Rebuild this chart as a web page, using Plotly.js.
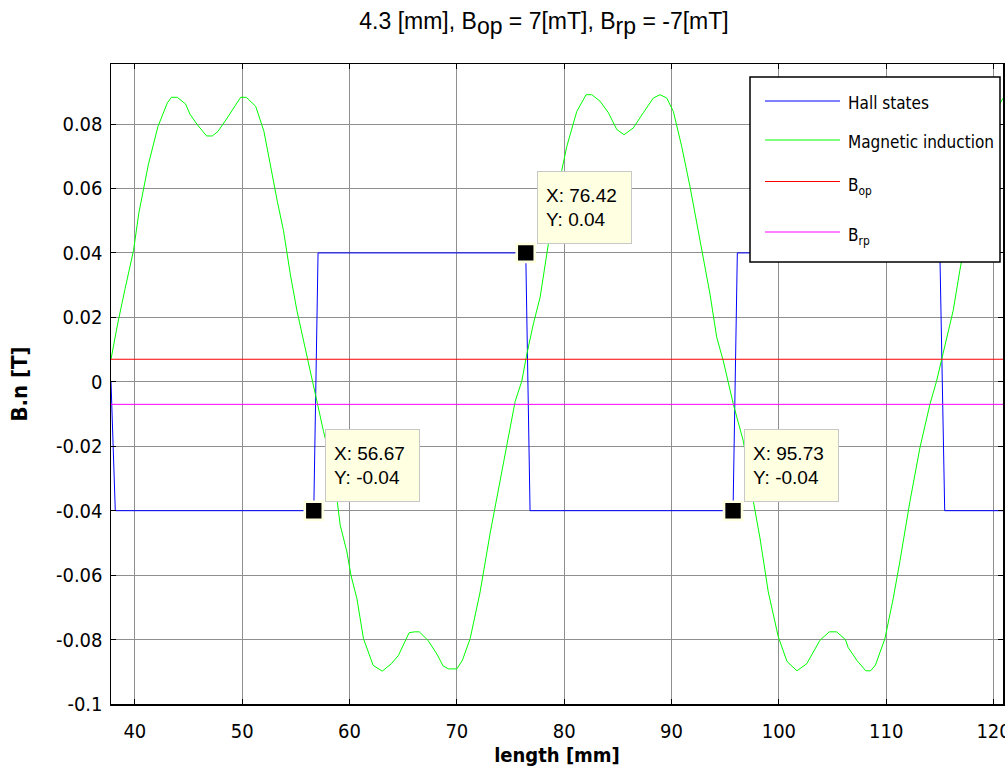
<!DOCTYPE html>
<html>
<head>
<meta charset="utf-8">
<script src="https://cdn.plot.ly/plotly-3.0.1.min.js"></script>
<style>
html,body{margin:0;padding:0;background:#fff;overflow:hidden;}
#chart{width:1005px;height:782px;}
</style>
</head>
<body>
<div id="chart"></div>
<script>
// ---- data ----
const hallX = [37.78, 38.18, 56.67, 57.07, 76.42, 76.82, 95.73, 96.13, 115.00, 115.45, 120.88];
const hallY = [0.0, -0.04, -0.04, 0.04, 0.04, -0.04, -0.04, 0.04, 0.04, -0.04, -0.04];

const bX = [37.78, 38.40, 39.10, 39.88, 40.37, 41.25, 42.15, 43.02, 43.40, 43.96, 44.73, 45.13, 45.82, 46.69, 47.22, 47.74, 48.55, 48.99, 49.86, 50.39,
  51.26, 52.03, 52.82, 53.28, 53.85, 54.48, 55.10, 56.03, 56.50, 56.96, 57.58, 58.51, 59.13, 59.76, 60.13, 60.69, 61.30, 62.20, 63.05, 63.90,
  64.56, 65.55, 66.05, 66.50, 67.30, 68.14, 68.72, 69.22, 70.00, 70.52, 71.24, 71.70, 72.17, 73.10, 74.10, 74.80, 75.43, 76.05, 76.52, 77.13,
  77.76, 78.53, 79.31, 79.78, 80.24, 81.17, 82.04, 82.57, 83.34, 84.12, 84.90, 85.58, 86.44, 87.37, 88.31, 88.93, 89.55, 90.17, 90.95, 91.72,
  92.65, 93.10, 93.58, 94.21, 94.82, 95.76, 96.69, 97.62, 98.24, 99.01, 99.95, 100.76, 101.68, 102.60, 103.83, 104.70, 105.38, 106.20, 106.46, 107.30,
  108.10, 108.55, 109.00, 109.88, 110.65, 111.27, 112.21, 113.14, 114.07, 114.69, 115.31, 116.24, 116.86, 117.60, 118.50, 119.40, 120.20, 120.88];
const bY = [0.0070, 0.0180, 0.0290, 0.0408, 0.0523, 0.0673, 0.0792, 0.0865, 0.0883, 0.0883, 0.0862, 0.0831, 0.0798, 0.0763, 0.0763, 0.0777, 0.0816, 0.0839, 0.0883, 0.0883,
  0.0855, 0.0777, 0.0636, 0.0559, 0.0469, 0.0335, 0.0221, 0.0076, 0.0013, -0.0060, -0.0154, -0.0278, -0.0444, -0.0528, -0.0600, -0.0673, -0.0797, -0.0880, -0.0898, -0.0875,
  -0.0849, -0.0779, -0.0776, -0.0776, -0.0802, -0.0845, -0.0882, -0.0891, -0.0891, -0.0864, -0.0797, -0.0724, -0.0652, -0.0470, -0.0290, -0.0170, -0.0061, 0.0002, 0.0086, 0.0180,
  0.0263, 0.0429, 0.0585, 0.0657, 0.0730, 0.0839, 0.0891, 0.0891, 0.0871, 0.0835, 0.0783, 0.0767, 0.0788, 0.0835, 0.0881, 0.0891, 0.0881, 0.0839, 0.0730, 0.0606,
  0.0440, 0.0360, 0.0273, 0.0138, 0.0065, -0.0070, -0.0184, -0.0371, -0.0485, -0.0652, -0.0792, -0.0868, -0.0897, -0.0875, -0.0802, -0.0776, -0.0776, -0.0800, -0.0825, -0.0866,
  -0.0897, -0.0897, -0.0879, -0.0797, -0.0673, -0.0558, -0.0371, -0.0205, -0.0070, 0.0002, 0.0086, 0.0221, 0.0346, 0.0480, 0.0640, 0.0760, 0.0840, 0.0880];

const bOp = 0.007;   // 7 mT
const bRp = -0.007;  // -7 mT

const tipX = [56.67, 76.42, 95.73];
const tipY = [-0.04, 0.04, -0.04];

const xTickVals = [40, 50, 60, 70, 80, 90, 100, 110, 120];
const xTickText = ['40', '50', '60', '70', '80', '90', '100', '110', '120'];
const yTickVals = [-0.1, -0.08, -0.06, -0.04, -0.02, 0, 0.02, 0.04, 0.06, 0.08];
const yTickText = ['-0.1', '-0.08', '-0.06', '-0.04', '-0.02', '0', '0.02', '0.04', '0.06', '0.08'];

const seriesNames = ['Hall states', 'Magnetic induction', 'B<sub>op</sub>', 'B<sub>rp</sub>'];
const seriesColors = ['#0000ff', '#00ff00', '#ff0000', '#ff00ff'];

// ---- chart ----
const xMin = hallX[0], xMax = hallX[hallX.length - 1];
const NARROW = '"DejaVu Sans Condensed", "Liberation Sans Narrow", sans-serif';
const ARIAL = 'Arial, "Liberation Sans", sans-serif';

const traces = [
  {x: hallX, y: hallY, mode: 'lines', name: seriesNames[0], line: {color: seriesColors[0], width: 1}},
  {x: bX, y: bY, mode: 'lines', name: seriesNames[1], line: {color: seriesColors[1], width: 1}},
  {x: [xMin, xMax], y: [bOp, bOp], mode: 'lines', name: seriesNames[2], line: {color: seriesColors[2], width: 1}},
  {x: [xMin, xMax], y: [bRp, bRp], mode: 'lines', name: seriesNames[3], line: {color: seriesColors[3], width: 1}},
  {x: tipX, y: tipY, mode: 'markers', name: 'data tips', showlegend: false,
   marker: {symbol: 'square', size: 18, color: '#000000', line: {color: '#ffffe1', width: 2.6}}}
];

// plot-area pixel helpers for the hand-drawn legend (MATLAB style long line samples)
const L = 111, T = 64, W = 892, H = 640;
const px = v => (v - L) / W;
const py = v => (T + H - v) / H;

const shapes = [
  {type: 'rect', xref: 'paper', yref: 'paper', x0: px(750), x1: px(1000), y0: py(262), y1: py(77),
   fillcolor: '#ffffff', line: {color: '#000000', width: 1.5}, layer: 'above'}
];
const legendRows = [101, 140, 181.5, 232];
const annotations = [];
seriesNames.forEach((nm, i) => {
  shapes.push({type: 'line', xref: 'paper', yref: 'paper', x0: px(765), x1: px(840), y0: py(legendRows[i]), y1: py(legendRows[i]),
    line: {color: seriesColors[i], width: 1}, layer: 'above'});
  annotations.push({xref: 'paper', yref: 'paper', x: px(846), y: py(legendRows[i] + (i >= 2 ? 5 : 2)), xanchor: 'left', yanchor: 'middle',
    text: nm, showarrow: false, font: {family: NARROW, size: 17, color: '#000000'}});
});
tipX.forEach((x, i) => {
  annotations.push({x: x, y: tipY[i], xref: 'x', yref: 'y', xanchor: 'left', yanchor: 'bottom', xshift: 11, yshift: 9,
    text: 'X: ' + x.toFixed(2) + '<br>Y: ' + tipY[i], showarrow: false, align: 'left',
    width: 77, height: 55,
    bgcolor: '#ffffe1', bordercolor: '#c8c8c8', borderwidth: 1, borderpad: 8,
    font: {family: ARIAL, size: 19, color: '#000000'}});
});

const subFull = s => '<sub><span style="font-size:23px">' + s + '</span></sub>';

const layout = {
  width: 1005, height: 782,
  margin: {l: L, r: 1005 - L - W, t: T, b: 782 - T - H, pad: 0},
  paper_bgcolor: '#ffffff', plot_bgcolor: '#ffffff',
  showlegend: false,
  title: {text: '4.3 [mm], B' + subFull('op') + ' = 7[mT], B' + subFull('rp') + ' = -7[mT]',
          font: {family: ARIAL, size: 23, color: '#000000'},
          x: 544 / 1005, xanchor: 'center', xref: 'container', y: 1 - 21 / 782, yanchor: 'middle', yref: 'container'},
  xaxis: {range: [xMin, xMax], tickvals: xTickVals, ticktext: xTickText, ticklabeloverflow: 'allow',
          showline: true, linecolor: '#000000', linewidth: 1.5, mirror: 'ticks',
          ticks: 'inside', ticklen: 5, tickcolor: '#000000', tickwidth: 1,
          showgrid: true, gridcolor: '#8f8f8f', gridwidth: 1, zeroline: false,
          tickfont: {family: NARROW, size: 20, color: '#000000'}, ticklabelstandoff: 8,
          title: {text: '<b>length [mm]</b>', font: {family: NARROW, size: 20, color: '#000000'}, standoff: 2}},
  yaxis: {range: [-0.1, -0.1 + H / 3222], tickvals: yTickVals, ticktext: yTickText, ticklabeloverflow: 'allow',
          showline: true, linecolor: '#000000', linewidth: 1.5, mirror: 'ticks',
          ticks: 'inside', ticklen: 5, tickcolor: '#000000', tickwidth: 1,
          showgrid: true, gridcolor: '#8f8f8f', gridwidth: 1, zeroline: false,
          tickfont: {family: NARROW, size: 20, color: '#000000'}, ticklabelstandoff: 3,
          title: {text: '<b>B.n [T]</b>', font: {family: NARROW, size: 22, color: '#000000'}, standoff: 22}},
  shapes: shapes,
  annotations: annotations
};

Plotly.newPlot('chart', traces, layout, {displayModeBar: false, staticPlot: true});
</script>
</body>
</html>
